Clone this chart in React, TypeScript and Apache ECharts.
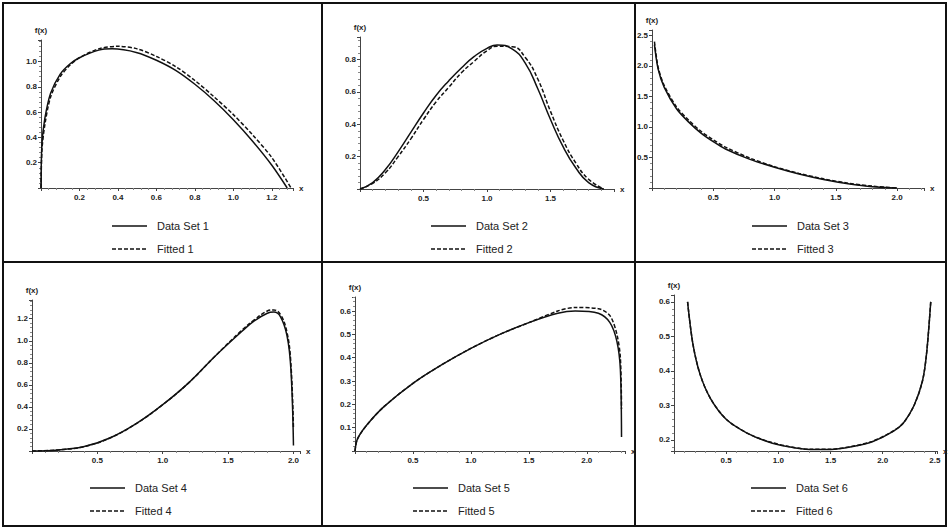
import React, { useEffect, useRef } from 'react';
import * as echarts from 'echarts';

// Panel 1
const x1a = [0, 0.005, 0.02, 0.05, 0.1, 0.15, 0.2, 0.3, 0.37, 0.5, 0.6, 0.7, 0.8, 0.9, 1.0, 1.1, 1.2, 1.28];
const y1a = [0, 0.35, 0.55, 0.75, 0.9, 0.98, 1.03, 1.09, 1.1, 1.07, 1.01, 0.93, 0.82, 0.69, 0.54, 0.37, 0.18, 0];
const x1b = [0, 0.005, 0.02, 0.05, 0.1, 0.15, 0.2, 0.3, 0.4, 0.5, 0.6, 0.7, 0.8, 0.9, 1.0, 1.1, 1.2, 1.3];
const y1b = [0, 0.3, 0.5, 0.72, 0.88, 0.97, 1.03, 1.1, 1.12, 1.1, 1.04, 0.96, 0.85, 0.72, 0.58, 0.42, 0.24, 0];
// Panel 2
const x2 = [0, 0.1, 0.2, 0.3, 0.4, 0.5, 0.6, 0.7, 0.8, 0.9, 1.0, 1.08, 1.2, 1.3, 1.4, 1.5, 1.6, 1.7, 1.8, 1.92];
const y2a = [0, 0.04, 0.12, 0.23, 0.35, 0.47, 0.58, 0.67, 0.75, 0.82, 0.87, 0.89, 0.865, 0.78, 0.62, 0.43, 0.26, 0.13, 0.04, 0];
const y2b = [0, 0.035, 0.1, 0.2, 0.31, 0.43, 0.54, 0.63, 0.72, 0.79, 0.855, 0.883, 0.88, 0.815, 0.68, 0.48, 0.3, 0.16, 0.06, 0];
// Panel 3
const x3 = [0.02, 0.05, 0.1, 0.2, 0.3, 0.4, 0.5, 0.6, 0.8, 1.0, 1.2, 1.4, 1.6, 1.8, 2.0];
const y3a = [2.35, 1.95, 1.65, 1.3, 1.08, 0.9, 0.76, 0.64, 0.47, 0.34, 0.23, 0.14, 0.07, 0.02, 0];
const y3b = [2.4, 1.98, 1.68, 1.33, 1.11, 0.93, 0.79, 0.67, 0.49, 0.35, 0.24, 0.15, 0.08, 0.03, 0];
// Panel 4
const x4 = [0, 0.2, 0.4, 0.6, 0.8, 1.0, 1.2, 1.4, 1.6, 1.7, 1.8, 1.85, 1.9, 1.95, 1.98, 2.0];
const y4a = [0, 0.01, 0.04, 0.12, 0.25, 0.42, 0.62, 0.86, 1.08, 1.18, 1.25, 1.26, 1.22, 1.05, 0.75, 0.05];
const y4b = [0, 0.01, 0.04, 0.12, 0.25, 0.42, 0.62, 0.86, 1.09, 1.19, 1.27, 1.28, 1.24, 1.08, 0.8, 0.2];
// Panel 5
const x5 = [0, 0.02, 0.1, 0.25, 0.5, 0.75, 1.0, 1.25, 1.5, 1.75, 1.9, 2.1, 2.2, 2.26, 2.29, 2.3];
const y5a = [0, 0.05, 0.11, 0.19, 0.29, 0.37, 0.44, 0.5, 0.55, 0.59, 0.6, 0.59, 0.55, 0.47, 0.35, 0.06];
const y5b = [0, 0.05, 0.11, 0.19, 0.29, 0.37, 0.44, 0.5, 0.55, 0.6, 0.615, 0.61, 0.58, 0.5, 0.4, 0.18];
// Panel 6
const x6 = [0.13, 0.18, 0.25, 0.35, 0.5, 0.7, 0.9, 1.1, 1.3, 1.5, 1.7, 1.9, 2.1, 2.2, 2.3, 2.38, 2.42, 2.46];
const y6a = [0.6, 0.48, 0.39, 0.32, 0.26, 0.22, 0.195, 0.18, 0.172, 0.172, 0.18, 0.195, 0.225, 0.25, 0.3, 0.37, 0.45, 0.6];
const y6b = [0.6, 0.48, 0.39, 0.32, 0.26, 0.22, 0.196, 0.181, 0.173, 0.173, 0.181, 0.196, 0.226, 0.25, 0.3, 0.37, 0.45, 0.6];

const dataLabels = ['Data Set 1', 'Data Set 2', 'Data Set 3', 'Data Set 4', 'Data Set 5', 'Data Set 6'];
const fitLabels = ['Fitted 1', 'Fitted 2', 'Fitted 3', 'Fitted 4', 'Fitted 5', 'Fitted 6'];

const pairs = (xs: number[], ys: number[]) => xs.map((x, i) => [x, ys[i]]);

const panels = [
  { a: pairs(x1a, y1a), b: pairs(x1b, y1b), grid: { left: 41, top: 40, width: 252, height: 148 }, x: [0, 1.31, 0.2], y: [0, 1.17, 0.2], leg: [112, 226], smooth: 0.3 },
  { a: pairs(x2, y2a), b: pairs(x2, y2b), grid: { left: 360, top: 37, width: 254, height: 152 }, x: [0, 2.0, 0.5], y: [0, 0.94, 0.2], leg: [431, 226], smooth: 0.5 },
  { a: pairs(x3, y3a), b: pairs(x3, y3b), grid: { left: 652, top: 30, width: 272, height: 158 }, x: [0, 2.22, 0.5], y: [0, 2.59, 0.5], leg: [752, 226], smooth: 0.3 },
  { a: pairs(x4, y4a), b: pairs(x4, y4b), grid: { left: 32, top: 300, width: 268, height: 151 }, x: [0, 2.05, 0.5], y: [0, 1.37, 0.2], leg: [90, 488], smooth: 0.4 },
  { a: pairs(x5, y5a), b: pairs(x5, y5b), grid: { left: 355, top: 297, width: 270, height: 154 }, x: [0, 2.33, 0.5], y: [0, 0.66, 0.1], leg: [413, 488], smooth: 0.3 },
  { a: pairs(x6, y6a), b: pairs(x6, y6b), grid: { left: 674, top: 295, width: 263, height: 156 }, x: [0, 2.52, 0.5], y: [0.168, 0.62, 0], leg: [751, 488], smooth: 0.3 },
];

const App: React.FC = () => {
  const ref = useRef<HTMLDivElement>(null);

  useEffect(() => {
    if (!ref.current) return;
    const chart = echarts.init(ref.current, undefined, { renderer: 'svg' });
    const axisLabel = { fontSize: 8, fontWeight: 'bold' as const, color: '#222', fontFamily: 'Liberation Sans', showMaxLabel: false };
    const axisLine = { lineStyle: { color: '#444', width: 1 } };

    const graphics: any[] = [
      { type: 'rect', shape: { x: 3, y: 3, width: 943, height: 523 }, style: { fill: 'none', stroke: '#111', lineWidth: 2 } },
      { type: 'line', shape: { x1: 322, y1: 3, x2: 322, y2: 526 }, style: { stroke: '#111', lineWidth: 2 } },
      { type: 'line', shape: { x1: 635, y1: 3, x2: 635, y2: 526 }, style: { stroke: '#111', lineWidth: 2 } },
      { type: 'line', shape: { x1: 3, y1: 262, x2: 946, y2: 262 }, style: { stroke: '#111', lineWidth: 2 } },
    ];
    panels.forEach((p, i) => {
      const [lx, ly] = p.leg;
      graphics.push(
        { type: 'line', shape: { x1: lx, y1: ly, x2: lx + 35, y2: ly }, style: { stroke: '#111', lineWidth: 1.5 } },
        { type: 'line', shape: { x1: lx, y1: ly + 23, x2: lx + 35, y2: ly + 23 }, style: { stroke: '#111', lineWidth: 1.5, lineDash: [4, 2] } },
        { type: 'text', x: lx + 45, y: ly, style: { text: dataLabels[i], fontSize: 11, fontFamily: 'Liberation Sans', fill: '#222', verticalAlign: 'middle' } },
        { type: 'text', x: lx + 45, y: ly + 23, style: { text: fitLabels[i], fontSize: 11, fontFamily: 'Liberation Sans', fill: '#222', verticalAlign: 'middle' } },
      );
    });

    chart.setOption({
      animation: false,
      grid: panels.map((p) => ({ ...p.grid })),
      xAxis: panels.map((p, i) => ({
        type: 'value', gridIndex: i, min: p.x[0], max: p.x[1], interval: p.x[2],
        name: 'x', nameGap: 6, nameTextStyle: { fontSize: 8, fontWeight: 'bold', color: '#222' },
        axisLine, axisTick: { show: true, length: 3, lineStyle: { color: '#444' } },
        minorTick: { show: true, splitNumber: 5, length: 2, lineStyle: { color: '#888' } },
        splitLine: { show: false },
        axisLabel: { ...axisLabel, formatter: (v: number) => (v === 0 ? '' : v.toFixed(1)), margin: 5 },
      })),
      yAxis: panels.map((p, i) => ({
        type: 'value', gridIndex: i, min: p.y[0], max: p.y[1],
        ...(p.y[2] ? { interval: p.y[2] } : { splitNumber: 5 }),
        name: 'f(x)', nameGap: 6, nameTextStyle: { fontSize: 8, fontWeight: 'bold', color: '#222', align: 'center' },
        axisLine: { ...axisLine, onZero: true }, axisTick: { show: true, length: 3, lineStyle: { color: '#444' } },
        minorTick: { show: true, splitNumber: 5, length: 2, lineStyle: { color: '#888' } },
        splitLine: { show: false },
        axisLabel: { ...axisLabel, showMinLabel: false, formatter: (v: number) => (v === 0 ? '' : v.toFixed(1)), margin: 4 },
      })),
      series: panels.flatMap((p, i) => [
        { type: 'line', xAxisIndex: i, yAxisIndex: i, data: p.a, showSymbol: false, smooth: p.smooth, lineStyle: { color: '#111', width: 1.5 } },
        { type: 'line', xAxisIndex: i, yAxisIndex: i, data: p.b, showSymbol: false, smooth: p.smooth, lineStyle: { color: '#111', width: 1.5, type: [4, 2] } },
      ]),
      graphic: graphics,
    });
    return () => chart.dispose();
  }, []);

  return <div ref={ref} style={{ width: 949, height: 529, position: 'absolute', left: 0, top: 0, background: '#fff' }} />;
};

export default App;
